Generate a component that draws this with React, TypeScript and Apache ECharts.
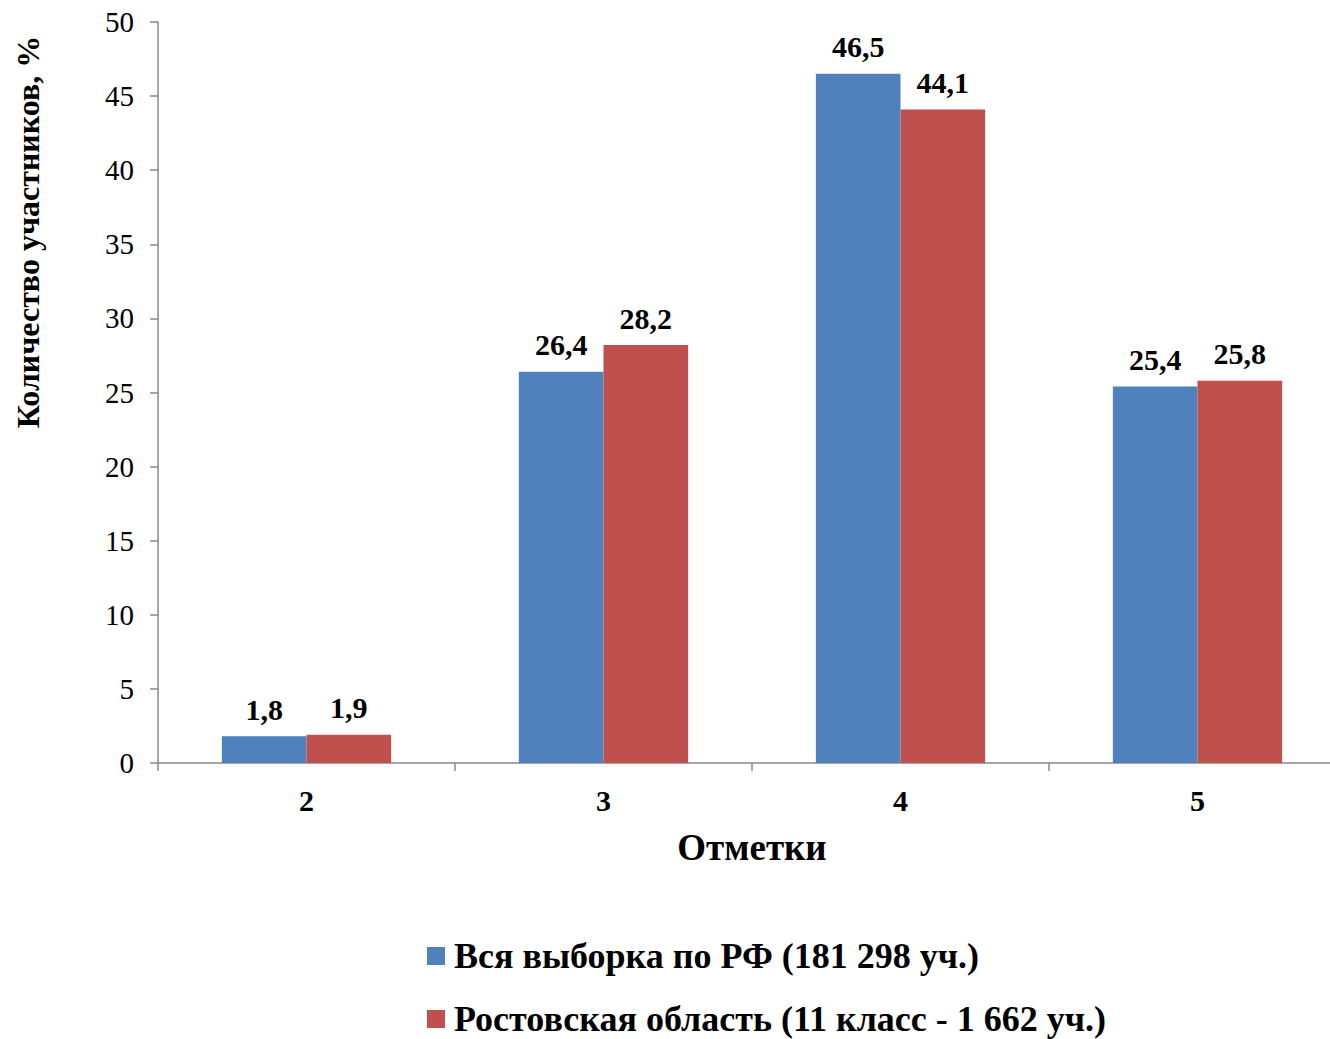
import React, { useEffect, useRef } from "react";
import * as echarts from "echarts";

const categories = ["2", "3", "4", "5"];
const seriesNames = ["Вся выборка по РФ (181 298 уч.)", "Ростовская область (11 класс - 1 662 уч.)"];
const rfValues = [1.8, 26.4, 46.5, 25.4];
const rostovValues = [1.9, 28.2, 44.1, 25.8];
const colors = ["#4F81BD", "#C0504D"];

const FONT = "'Liberation Serif', 'Times New Roman', serif";

export default function App() {
  const ref = useRef<HTMLDivElement>(null);
  useEffect(() => {
    if (!ref.current) return;
    const chart = echarts.init(ref.current, null, { renderer: "svg" });
    const label = {
      show: true,
      position: "top" as const,
      distance: 12,
      fontFamily: FONT,
      fontWeight: "bold" as const,
      fontSize: 30,
      color: "#000",
      formatter: (p: any) => String(p.value).replace(".", ","),
    };
    const legendText = {
      fontFamily: FONT,
      fontWeight: "bold",
      fontSize: 36,
      lineHeight: 38,
      color: "#000",
      padding: [0, 0, 0, 4],
    };
    chart.setOption({
      animation: false,
      backgroundColor: "#fff",
      textStyle: { fontFamily: FONT },
      grid: { left: 158, top: 22, height: 741, width: 1188, containLabel: false },
      legend: [
        {
          orient: "vertical",
          left: 422,
          top: 932,
          itemWidth: 18,
          itemHeight: 18,
          icon: "rect",
          textStyle: legendText,
          data: [seriesNames[0]],
        },
        {
          orient: "vertical",
          left: 422,
          top: 995,
          itemWidth: 18,
          itemHeight: 18,
          icon: "rect",
          textStyle: legendText,
          data: [seriesNames[1]],
        },
      ],
      xAxis: {
        type: "category",
        data: categories,
        name: "Отметки",
        nameLocation: "middle",
        nameGap: 66,
        nameTextStyle: { fontFamily: FONT, fontWeight: "bold", fontSize: 37, color: "#000" },
        axisLine: { lineStyle: { color: "#898989", width: 1.5 } },
        axisTick: { show: true, length: 8, lineStyle: { color: "#898989", width: 1.5 } },
        axisLabel: { fontFamily: FONT, fontWeight: "bold", fontSize: 30, color: "#000", margin: 22 },
      },
      yAxis: {
        type: "value",
        min: 0,
        max: 50,
        interval: 5,
        axisLine: { show: true, lineStyle: { color: "#898989", width: 1.5 } },
        axisTick: { show: true, length: 8, lineStyle: { color: "#898989", width: 1.5 } },
        splitLine: { show: false },
        axisLabel: { fontFamily: FONT, fontSize: 29, color: "#000", margin: 24 },
      },
      graphic: [
        {
          type: "text",
          x: 28,
          y: 232,
          rotation: Math.PI / 2,
          style: {
            text: "Количество участников, %",
            fontFamily: FONT,
            fontWeight: "bold",
            fontSize: 32,
            fill: "#000",
            align: "center",
            verticalAlign: "middle",
          },
        },
      ],
      series: [
        {
          name: seriesNames[0],
          type: "bar",
          data: rfValues,
          itemStyle: { color: colors[0] },
          barGap: "0%",
          barCategoryGap: "43%",
          label,
        },
        {
          name: seriesNames[1],
          type: "bar",
          data: rostovValues,
          itemStyle: { color: colors[1] },
          barGap: "0%",
          barCategoryGap: "43%",
          label,
        },
      ],
    });
    return () => chart.dispose();
  }, []);
  return (
    <div style={{ position: "absolute", left: 0, top: 0, width: 1330, height: 1039, overflow: "hidden" }}>
      <div ref={ref} style={{ width: 1370, height: 1039 }} />
    </div>
  );
}
